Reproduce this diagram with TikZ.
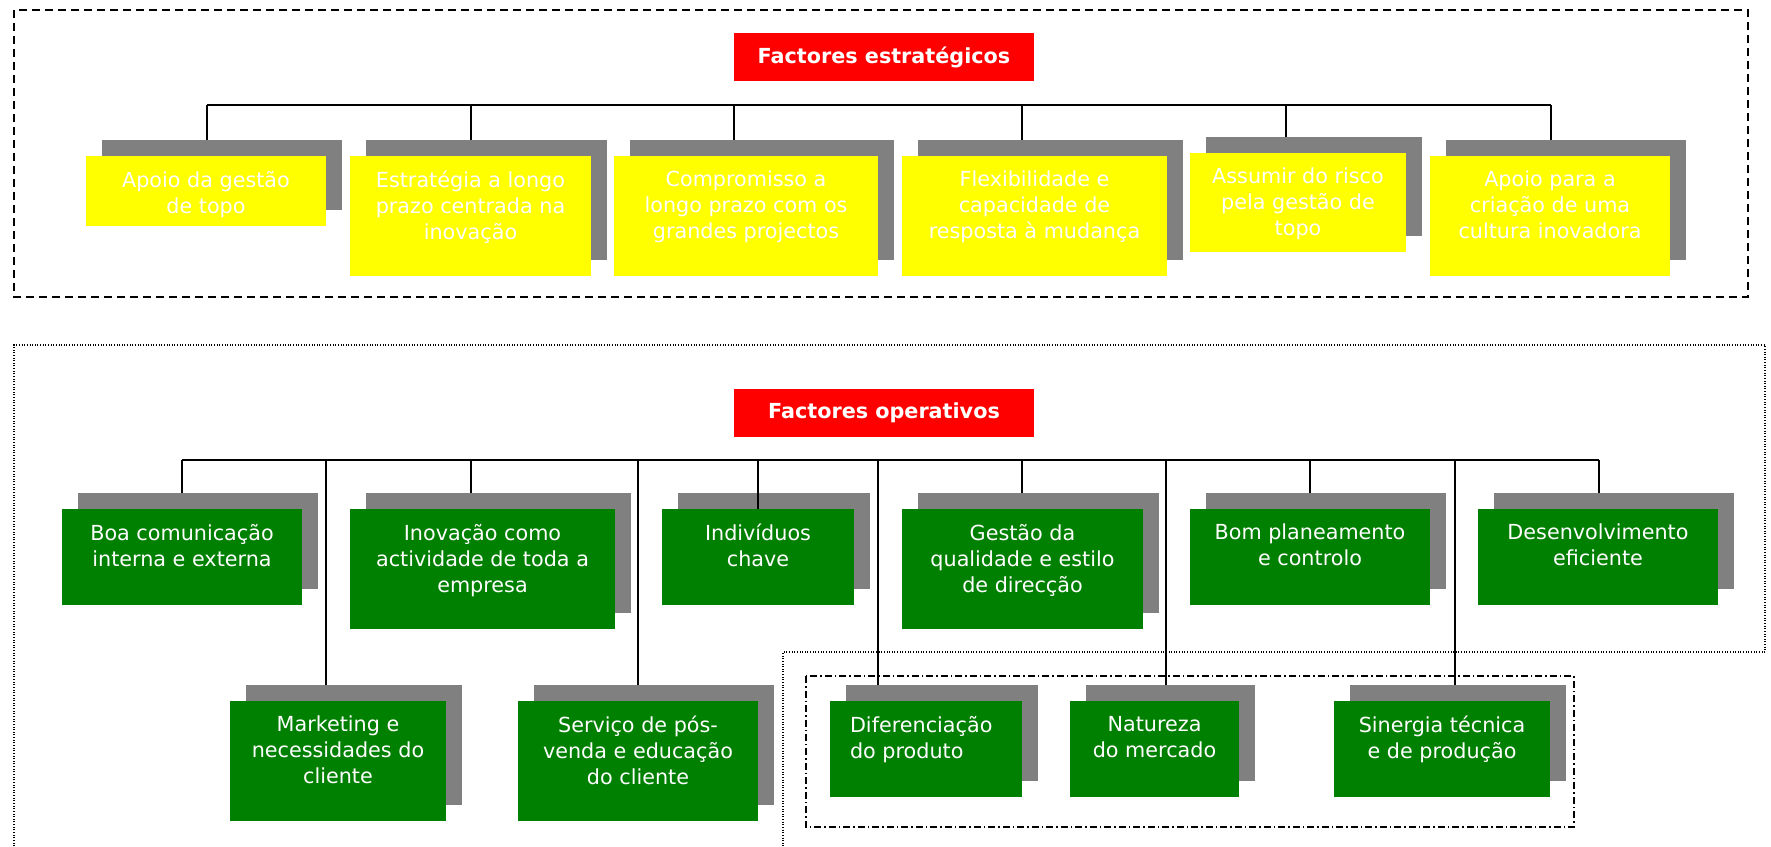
\documentclass[tikz,border=0pt]{standalone}
\usepackage{fontspec}
\setmainfont{DejaVu Sans}
\usetikzlibrary{positioning,shadows}
\definecolor{boxyellow}{RGB}{255,255,0}
\definecolor{boxgreen}{RGB}{0,128,0}
\definecolor{boxred}{RGB}{255,0,0}
\definecolor{boxgray}{RGB}{128,128,128}
\begin{document}
\begin{tikzpicture}[x=0.02cm, y=-0.02cm]
\tikzstyle{title} = [fill=boxred, text=white, font=\bfseries\fontsize{11.8}{14.8}\selectfont, minimum width=6cm, minimum height=0.96cm, inner sep=0]
\tikzstyle{factor} = [inner sep=0, general shadow={fill=boxgray, shadow xshift=0.32cm, shadow yshift=0.32cm}]
\tikzstyle{strat} = [factor, fill=boxyellow]
\tikzstyle{oper} = [factor, fill=boxgreen]
\tikzstyle{txt} = [text=white, font=\fontsize{11.8}{14.8}\selectfont, align=center, inner sep=0]
\tikzstyle{link} = [draw=black, line width=1.1pt]

\useasboundingbox (0,0) rectangle (1771,846);

% frames
\draw[line width=0.9pt, dash pattern=on 0.16cm off 0.1cm] (14,10) rectangle (1748,297);
\draw[line width=0.6pt, dash pattern=on 0.5pt off 1pt] (14,846) -- (14,345) -- (1765,345) -- (1765,652) -- (783,652) -- (783,846);
\draw[line width=1pt, dash pattern=on 0.14cm off 0.06cm on 0.03cm off 0.06cm] (806,676) rectangle (1574,827);

% strategic factors
\node[title] (fe) at (884,57) {Factores estratégicos};

\node[strat, minimum width=4.8cm, minimum height=1.4cm] (e1) at (206,191) {};
\node[txt, below=0.3cm of e1.north] (te1) {Apoio da gestão\\de topo};
\node[strat, minimum width=4.82cm, minimum height=2.4cm] (e2) at (470.5,216) {};
\node[txt, below=0.3cm of e2.north] (te2) {Estratégia a longo\\prazo centrada na\\inovação};
\node[strat, minimum width=5.28cm, minimum height=2.4cm] (e3) at (746,216) {};
\node[txt, below=0.3cm of e3.north] (te3) {Compromisso a\\longo prazo com os\\grandes projectos};
\node[strat, minimum width=5.3cm, minimum height=2.4cm] (e4) at (1034.5,216) {};
\node[txt, below=0.3cm of e4.north] (te4) {Flexibilidade e\\capacidade de\\resposta à mudança};
\node[strat, minimum width=4.32cm, minimum height=1.98cm] (e5) at (1298,202.5) {};
\node[txt, below=0.3cm of e5.north] (te5) {Assumir do risco\\pela gestão de\\topo};
\node[strat, minimum width=4.8cm, minimum height=2.4cm] (e6) at (1550,216) {};
\node[txt, below=0.3cm of e6.north] (te6) {Apoio para a\\criação de uma\\cultura inovadora};

\coordinate (ea) at (207,105);
\coordinate (eb) at (471,105);
\coordinate (ec) at (734,105);
\coordinate (ed) at (1022,105);
\coordinate (ee) at (1286,105);
\coordinate (ef) at (1551,105);
\draw[link] (ea) -- (ef);
\draw[link] (ea) -- ([yshift=0.32cm]ea |- e1.north);
\draw[link] (eb) -- ([yshift=0.32cm]eb |- e2.north);
\draw[link] (ec) -- ([yshift=0.32cm]ec |- e3.north);
\draw[link] (ed) -- ([yshift=0.32cm]ed |- e4.north);
\draw[link] (ee) -- ([yshift=0.32cm]ee |- e5.north);
\draw[link] (ef) -- ([yshift=0.32cm]ef |- e6.north);

% operative factors
\node[title] (fo) at (884,413) {Factores operativos};

\node[oper, minimum width=4.8cm, minimum height=1.92cm] (o1) at (182,557) {};
\node[txt, below=0.3cm of o1.north] (to1) {Boa comunicação\\interna e externa};
\node[oper, minimum width=5.3cm, minimum height=2.4cm] (o2) at (482.5,569) {};
\node[txt, below=0.3cm of o2.north] (to2) {Inovação como\\actividade de toda a\\empresa};
\node[oper, minimum width=3.84cm, minimum height=1.92cm] (o3) at (758,557) {};
\node[txt, below=0.3cm of o3.north] (to3) {Indivíduos\\chave};
\node[oper, minimum width=4.82cm, minimum height=2.4cm] (o4) at (1022.5,569) {};
\node[txt, below=0.3cm of o4.north] (to4) {Gestão da\\qualidade e estilo\\de direcção};
\node[oper, minimum width=4.8cm, minimum height=1.92cm] (o5) at (1310,557) {};
\node[txt, below=0.3cm of o5.north] (to5) {Bom planeamento\\e controlo};
\node[oper, minimum width=4.8cm, minimum height=1.92cm] (o6) at (1598,557) {};
\node[txt, below=0.3cm of o6.north] (to6) {Desenvolvimento\\eficiente};

\node[oper, minimum width=4.32cm, minimum height=2.4cm] (p1) at (338,761) {};
\node[txt, below=0.3cm of p1.north] (tp1) {Marketing e\\necessidades do\\cliente};
\node[oper, minimum width=4.8cm, minimum height=2.4cm] (p2) at (638,761) {};
\node[txt, below=0.3cm of p2.north] (tp2) {Serviço de pós-\\venda e educação\\do cliente};
\node[oper, minimum width=3.84cm, minimum height=1.92cm] (p3) at (926,749) {};
\node[txt, align=left, below right=0.3cm and 0.4cm of p3.north west] (tp3) {Diferenciação\\do produto};
\node[oper, minimum width=3.38cm, minimum height=1.92cm] (p4) at (1154.5,749) {};
\node[txt, below=0.3cm of p4.north] (tp4) {Natureza\\do mercado};
\node[oper, minimum width=4.32cm, minimum height=1.92cm] (p5) at (1442,749) {};
\node[txt, below=0.3cm of p5.north] (tp5) {Sinergia técnica\\e de produção};

\coordinate (oa) at (182,460);
\coordinate (ob) at (326,460);
\coordinate (oc) at (471,460);
\coordinate (od) at (638,460);
\coordinate (oe) at (758,460);
\coordinate (of) at (878,460);
\coordinate (og) at (1022,460);
\coordinate (oh) at (1166,460);
\coordinate (oi) at (1310,460);
\coordinate (oj) at (1455,460);
\coordinate (ok) at (1599,460);
\draw[link] (oa) -- (ok);
\draw[link] (oa) -- ([yshift=0.32cm]oa |- o1.north);
\draw[link] (ob) -- ([yshift=0.32cm]ob |- p1.north);
\draw[link] (oc) -- ([yshift=0.32cm]oc |- o2.north);
\draw[link] (od) -- ([yshift=0.32cm]od |- p2.north);
\draw[link] (oe) -- (oe |- o3.north);
\draw[link] (of) -- ([yshift=0.32cm]of |- p3.north);
\draw[link] (og) -- ([yshift=0.32cm]og |- o4.north);
\draw[link] (oh) -- ([yshift=0.32cm]oh |- p4.north);
\draw[link] (oi) -- ([yshift=0.32cm]oi |- o5.north);
\draw[link] (oj) -- ([yshift=0.32cm]oj |- p5.north);
\draw[link] (ok) -- ([yshift=0.32cm]ok |- o6.north);
\end{tikzpicture}
\end{document}
